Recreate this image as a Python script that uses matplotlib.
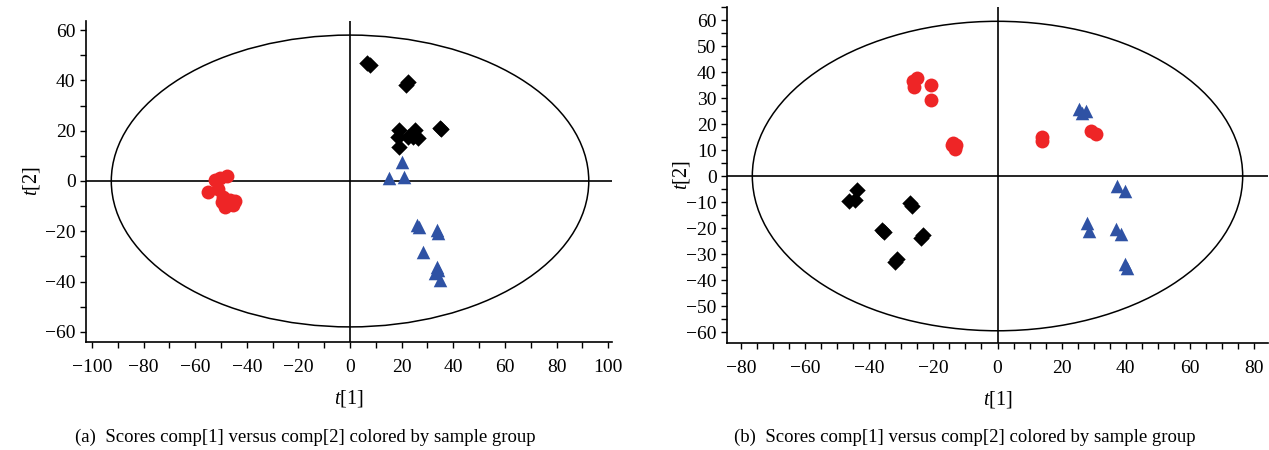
import matplotlib
matplotlib.use("Agg")
import matplotlib.pyplot as plt
from matplotlib.patches import Ellipse
from matplotlib.ticker import MultipleLocator

plt.rcParams['font.family'] = ['Liberation Serif', 'DejaVu Serif']
plt.rcParams['mathtext.fontset'] = 'custom'
plt.rcParams['mathtext.it'] = 'Liberation Serif:italic'
plt.rcParams['mathtext.rm'] = 'Liberation Serif'

# ---- Panel (a) data ----
a_red_x = [-50.4, -47.7, -52.5, -55.0, -49.2, -46.5, -48.4, -45.3, -51.0, -49.5, -47.0, -44.5]
a_red_y = [1.2, 2.0, 0.5, -4.4, -6.3, -7.5, -10.3, -9.5, -3.2, -8.5, -9.0, -8.0]
a_black_x = [6.6, 7.8, 21.5, 22.3, 34.9, 19.0, 18.6, 19.0, 25.2, 24.4, 22.5, 26.4, 35.3]
a_black_y = [46.8, 46.0, 38.0, 39.5, 21.0, 20.2, 17.5, 13.5, 20.2, 17.5, 17.5, 17.0, 20.5]
a_blue_x = [20.2, 15.1, 21.0, 26.0, 26.7, 33.7, 34.0, 28.3, 33.7, 33.0, 35.0, 34.0]
a_blue_y = [7.5, 1.2, 1.6, -17.5, -18.3, -19.4, -20.7, -28.2, -34.0, -36.5, -39.3, -35.3]
a_ellipse = (92.5, 58.0)

# ---- Panel (b) data ----
b_red_x = [-25.2, -26.5, -25.9, -20.6, -20.9, -14.3, -12.8, -13.4, -14.0, 14.0, 14.0, 29.3, 30.8]
b_red_y = [37.7, 36.5, 34.2, 35.0, 29.2, 11.9, 11.9, 10.4, 12.7, 13.5, 15.0, 17.3, 16.2]
b_black_x = [-43.9, -46.4, -44.5, -27.4, -26.8, -36.1, -23.4, -31.5, -35.5, -24.0, -32.0]
b_black_y = [-5.4, -9.6, -9.2, -10.4, -11.5, -20.8, -22.7, -32.0, -21.5, -24.0, -33.0]
b_blue_x = [25.5, 27.7, 26.5, 37.4, 39.9, 28.0, 28.7, 37.0, 38.6, 40.5, 39.8]
b_blue_y = [25.8, 25.0, 24.2, -3.8, -5.8, -18.0, -21.2, -20.4, -22.3, -35.4, -34.0]
b_ellipse = (76.5, 59.5)

RED = '#EE2526'
BLUE = '#2F52A4'
BLACK = '#000000'

fig = plt.figure(figsize=(12.69, 4.5), dpi=100)
W, H = 1269, 450
axA = fig.add_axes([86 / W, 1 - 342 / H, (612 - 86) / W, (342 - 21) / H])
axB = fig.add_axes([727 / W, 1 - 343 / H, (1268 - 727) / W, (343 - 7) / H])


def style(ax, xlim, ylim, xmaj, xmin, ymaj, ymin, ell, ylabelpad):
    ax.set_xlim(*xlim)
    ax.set_ylim(*ylim)
    for s in ['top', 'right']:
        ax.spines[s].set_visible(False)
    for s in ['left', 'bottom']:
        ax.spines[s].set_linewidth(1.2)
    ax.xaxis.set_major_locator(MultipleLocator(xmaj))
    ax.xaxis.set_minor_locator(MultipleLocator(xmin))
    ax.yaxis.set_major_locator(MultipleLocator(ymaj))
    ax.yaxis.set_minor_locator(MultipleLocator(ymin))
    ax.tick_params(which='both', direction='out', length=4, width=1, labelsize=14)
    ax.tick_params(axis='x', pad=8)
    ax.axhline(0, color='black', lw=1.2, zorder=1)
    ax.axvline(0, color='black', lw=1.2, zorder=1)
    ax.add_patch(Ellipse((0, 0), 2 * ell[0], 2 * ell[1], fill=False, ec='black', lw=1.1, zorder=1))
    ax.set_xlabel(r'$t$[1]', fontsize=14.5, labelpad=9)
    ax.set_ylabel(r'$t$[2]', fontsize=14.5, labelpad=ylabelpad)


style(axA, (-102.3, 101.5), (-64, 63.6), 20, 10, 20, 10, a_ellipse, 2)
style(axB, (-84.4, 84.4), (-64.2, 65), 20, 5, 10, 5, b_ellipse, -4)

axA.scatter(a_red_x, a_red_y, s=100, marker='o', color=RED, zorder=3, linewidths=0)
axA.scatter(a_black_x, a_black_y, s=70, marker='D', color=BLACK, zorder=3, linewidths=0)
axA.scatter(a_blue_x, a_blue_y, s=95, marker='^', color=BLUE, zorder=3, linewidths=0)

axB.scatter(b_red_x, b_red_y, s=100, marker='o', color=RED, zorder=3, linewidths=0)
axB.scatter(b_black_x, b_black_y, s=70, marker='D', color=BLACK, zorder=3, linewidths=0)
axB.scatter(b_blue_x, b_blue_y, s=95, marker='^', color=BLUE, zorder=3, linewidths=0)

fig.text(305 / W, 1 - 437 / H, '(a)  Scores comp[1] versus comp[2] colored by sample group',
         ha='center', va='center', fontsize=13.5)
fig.text(965 / W, 1 - 437 / H, '(b)  Scores comp[1] versus comp[2] colored by sample group',
         ha='center', va='center', fontsize=13.5)

fig.savefig('out.png', dpi=100)
